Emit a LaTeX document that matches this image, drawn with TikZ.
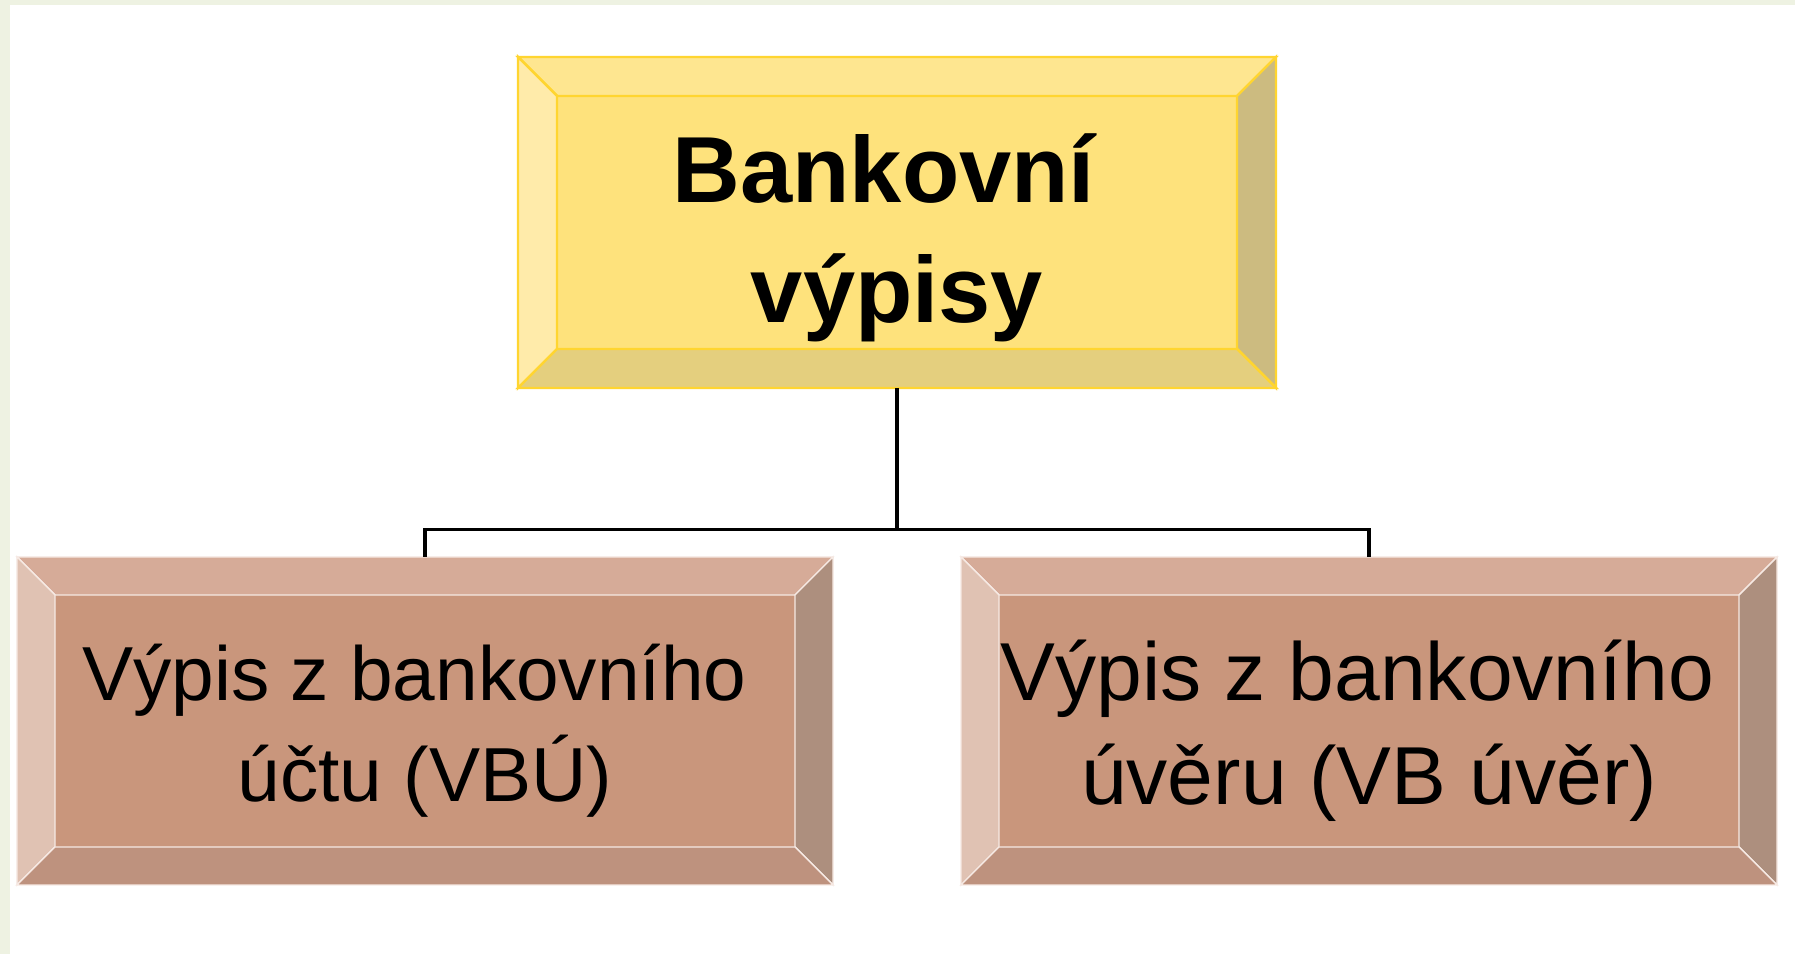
\documentclass[tikz,border=0pt]{standalone}
\usepackage{fontspec}
\setmainfont{Liberation Sans}

\definecolor{bgStrip}{HTML}{EEF2E2}
\definecolor{ylwMid}{HTML}{FEE27C}
\definecolor{ylwTop}{HTML}{FEE690}
\definecolor{ylwLeft}{HTML}{FFEBAA}
\definecolor{ylwRight}{HTML}{CCBB80}
\definecolor{ylwBottom}{HTML}{E4CF7E}
\definecolor{ylwEdge}{HTML}{FFD530}
\definecolor{brnMid}{HTML}{C9967C}
\definecolor{brnTop}{HTML}{D6AB98}
\definecolor{brnLeft}{HTML}{E0C2B3}
\definecolor{brnRight}{HTML}{AD8F7E}
\definecolor{brnBottom}{HTML}{BE927E}
\definecolor{brnEdge}{HTML}{F6E9E3}

% bevel of a box node: #1 name, #2 depth, #3-#6 top/left/right/bottom, #7 edge
\newcommand{\bevel}[7]{%
  \filldraw[fill=#3, draw=#7] (#1.north west) -- (#1.north east)
    -- ([xshift=-#2,yshift=-#2]#1.north east) -- ([xshift=#2,yshift=-#2]#1.north west) -- cycle;
  \filldraw[fill=#4, draw=#7] (#1.north west) -- ([xshift=#2,yshift=-#2]#1.north west)
    -- ([xshift=#2,yshift=#2]#1.south west) -- (#1.south west) -- cycle;
  \filldraw[fill=#5, draw=#7] (#1.north east) -- (#1.south east)
    -- ([xshift=-#2,yshift=#2]#1.south east) -- ([xshift=-#2,yshift=-#2]#1.north east) -- cycle;
  \filldraw[fill=#6, draw=#7] (#1.south west) -- ([xshift=#2,yshift=#2]#1.south west)
    -- ([xshift=-#2,yshift=#2]#1.south east) -- (#1.south east) -- cycle;
}

\tikzset{
  panel/.style={rectangle, inner sep=0pt, outer sep=0pt},
  toptext/.style={align=center, inner sep=0pt, anchor=base,
    font=\fontsize{26.7}{34.1}\selectfont\bfseries},
  subtext/.style={align=center, inner sep=0pt, anchor=base,
    font=\fontsize{21.8}{28.6}\selectfont},
  link/.style={line width=1.1pt, black}
}

\begin{document}
\begin{tikzpicture}
  \useasboundingbox (0,0) rectangle (17.95,-9.54);
  \fill[white] (0,0) rectangle (17.95,-9.54);
  \fill[bgStrip] (0,0) rectangle (17.95,-0.05);
  \fill[bgStrip] (0,0) rectangle (0.1,-9.54);

  % boxes
  \node[panel, fill=ylwMid, minimum width=7.58cm, minimum height=3.31cm] (vypisy) at (8.97,-2.225) {};
  \node[panel, fill=brnMid, minimum width=8.16cm, minimum height=3.28cm] (vbu) at (4.25,-7.21) {};
  \node[panel, fill=brnMid, minimum width=8.16cm, minimum height=3.28cm] (vbuver) at (13.69,-7.21) {};

  \begin{scope}[line width=0.7pt]
    \bevel{vypisy}{0.39cm}{ylwTop}{ylwLeft}{ylwRight}{ylwBottom}{ylwEdge}
  \end{scope}
  \bevel{vbu}{0.38cm}{brnTop}{brnLeft}{brnRight}{brnBottom}{brnEdge}
  \bevel{vbuver}{0.38cm}{brnTop}{brnLeft}{brnRight}{brnBottom}{brnEdge}

  % texts
  \node[toptext] (vypisy-t) at (8.97,-3.228) {Bankovní\kern0.28em\\výpisy};
  \node[subtext] (vbu-t) at (4.25,-8.014) {Výpis z bankovního\kern0.28em\\účtu (VBÚ)};
  \node[subtext, font=\fontsize{23.4}{29.6}\selectfont] (vbuver-t) at (13.69,-8.048)
    {Výpis z bankovního\kern0.28em\\úvěru (VB úvěr)};

  % connectors
  \coordinate (split) at (8.97,-5.295);
  \draw[link] (vypisy.south) -- (split);
  \draw[link] (split) -| (vbu.north);
  \draw[link] (split) -| (vbuver.north);
\end{tikzpicture}
\end{document}
